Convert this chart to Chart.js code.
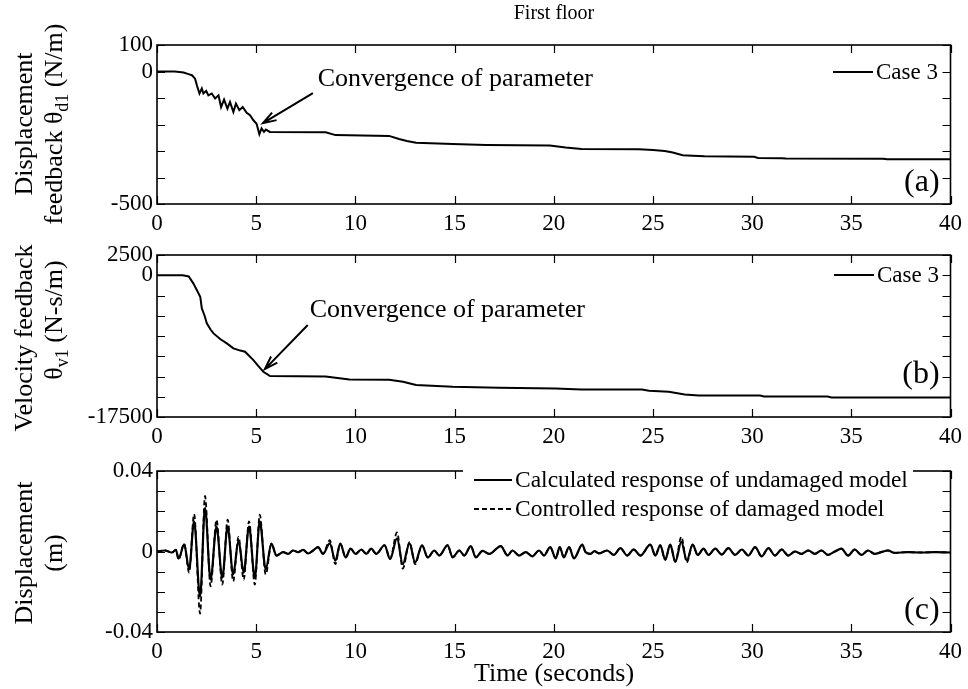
<!DOCTYPE html>
<html>
<head>
<meta charset="utf-8">
<title>First floor</title>
<script src="https://cdn.jsdelivr.net/npm/chart.js@4.4.1/dist/chart.umd.min.js"></script>
<style>
  html, body { margin: 0; padding: 0; background: #fff; }
  #wrap { position: relative; width: 968px; height: 689px; }
  #wrap canvas { position: absolute; left: 0; top: 0; }
</style>
</head>
<body>
<div id="wrap">
  <canvas id="panelA" width="968" height="689"></canvas>
  <canvas id="panelB" width="968" height="689"></canvas>
  <canvas id="panelC" width="968" height="689"></canvas>
</div>
<script>
// ---------- shared time axis ----------
const timeMin = 0, timeMax = 40, timeStep = 5;

// ---------- (a) displacement feedback gain theta_d1 (N/m) ----------
const timeA = [0, 0.9, 1.34, 1.59, 1.76, 1.92, 2.01, 2.14, 2.26, 2.34,
  2.48, 2.59, 2.76, 2.93, 3.1, 3.23, 3.38, 3.55, 3.68, 3.85,
  3.98, 4.15, 4.32, 4.52, 4.69, 4.86, 5.02, 5.16, 5.27, 5.39,
  5.49, 5.69, 8.5, 9.0, 11.7, 12.2, 12.6, 13.06, 14.9, 16.6,
  19.8, 20.6, 21.4, 24.3, 25.0, 25.6, 26.0, 26.5, 27.0, 27.6,
  30.1, 30.3, 31.5, 31.7, 36.6, 36.8, 40];
const thetaD1 = [0, 0, -4, -10, -14, -27, -52, -83, -64, -83,
  -73, -90, -83, -102, -90, -134, -106, -140, -115, -153,
  -121, -146, -134, -156, -165, -184, -197, -237, -215, -228,
  -219, -228, -229, -240, -243, -255, -262, -269, -274, -277,
  -279, -287, -292, -293, -296, -300, -306, -316, -318, -320,
  -322, -326, -327, -328, -329, -331, -331];
const yRangeA = [-500, 100], yStepA = 100, yLabelsA = [100, 0, -500];

// ---------- (b) velocity feedback gain theta_v1 (N-s/m) ----------
const timeB = [0, 1.3, 1.6, 1.83, 2.0, 2.18, 2.26, 2.4, 2.51, 2.7,
  2.85, 3.2, 3.52, 3.85, 4.2, 4.44, 4.86, 5.1, 5.36, 5.7,
  8.5, 9.7, 11.7, 12.4, 13.06, 14.9, 17.25, 20.1, 20.4, 21.4,
  24.45, 24.8, 25.8, 26.6, 27.3, 30.4, 30.6, 33.8, 34.0, 40];
const thetaV1 = [0, 0, -150, -1000, -1800, -2650, -4090, -5000, -5940, -6700,
  -7180, -7900, -8410, -9030, -9300, -9440, -10470, -11200, -11910, -12450,
  -12500, -12860, -12900, -13150, -13560, -13770, -13890, -13970, -14000, -14090,
  -14100, -14260, -14390, -14710, -14840, -14850, -14960, -14970, -15080, -15080];
const yRangeB = [-17500, 2500], yStepB = 2500, yLabelsB = [2500, 0, -17500];

// ---------- (c) first-floor displacement (m) ----------
const timeC = [0, 0.4, 0.75, 0.95, 1.09, 1.37, 1.62, 1.87, 2.17, 2.42,
  2.7, 3.0, 3.29, 3.56, 3.84, 4.11, 4.37, 4.64, 4.93, 5.18,
  5.48, 5.77, 6.02, 6.36, 6.61, 6.86, 7.11, 7.37, 7.62, 7.87,
  8.12, 8.37, 8.71, 8.99, 9.24, 9.51, 9.76, 10.01, 10.3, 10.55,
  10.8, 11.05, 11.47, 11.75, 12.1, 12.39, 12.73, 13.01, 13.36, 13.65,
  13.98, 14.23, 14.65, 14.9, 15.24, 15.49, 15.82, 16.07, 16.41, 16.75,
  17.33, 17.67, 17.92, 18.25, 18.59, 18.92, 19.26, 19.51, 19.82, 20.1,
  20.3, 20.51, 20.77, 21.02, 21.44, 21.6, 21.85, 22.05, 22.27, 22.69,
  23.03, 23.36, 23.7, 24.03, 24.37, 24.87, 25.12, 25.37, 25.62, 25.87,
  26.13, 26.43, 26.71, 27.0, 27.26, 27.55, 27.8, 28.14, 28.47, 28.8,
  29.14, 29.48, 29.81, 30.15, 30.48, 30.82, 31.15, 31.49, 31.82, 32.16,
  32.49, 32.83, 33.16, 33.5, 33.83, 34.17, 34.5, 34.84, 35.17, 35.51,
  35.84, 36.18, 36.51, 36.85, 37.18, 37.85, 38.52, 39.19, 40];
const dispUndamaged = [0, 0.0005, -0.0005, 0.0008, -0.0035, 0.0035, -0.0088, 0.015, -0.0224, 0.0217,
  -0.0139, 0.0124, -0.013, 0.0124, -0.0114, 0.0056, -0.0105, 0.0124, -0.013, 0.015,
  -0.0088, 0.0039, -0.002, -0.0003, -0.0012, 0.0005, -0.0003, 0.0008, -0.001, 0.0005,
  0.0022, -0.0012, 0.004, -0.0046, 0.0039, -0.0029, 0.0014, -0.0012, 0.001, -0.0012,
  0.0014, -0.0012, 0.0031, -0.0037, 0.0065, -0.0063, 0.004, -0.0054, 0.003, -0.003,
  0.0005, -0.002, 0.0031, -0.0029, 0.0005, -0.002, 0.0027, -0.0029, 0.0003, -0.0012,
  0.0027, -0.002, 0.0005, -0.002, -0.0003, -0.0024, 0.0005, -0.002, 0.0022, -0.0034,
  0.0022, -0.0029, 0.0022, -0.0034, 0.0034, -0.0003, -0.0012, 0.0002, -0.0009, 0.0005,
  -0.0017, 0.0017, -0.002, 0.001, -0.002, 0.0034, -0.002, 0.0031, -0.0041, 0.0034,
  -0.0051, 0.0048, -0.0045, 0.0034, -0.0017, 0.0014, -0.0017, 0.0014, -0.0015, 0.0017,
  -0.0017, 0.001, -0.002, 0.0022, -0.0024, 0.0017, -0.002, 0.001, -0.002, 0,
  -0.0012, 0.0005, -0.0012, 0.0005, -0.0017, 0, 0.0014, -0.002, 0.001, -0.0017,
  0.0005, -0.0012, -0.0003, 0.0005, -0.0007, -0.0003, -0.0005, -0.0003, -0.0005];
const dispDamaged = [0, 0.0005, -0.0005, 0.0008, -0.004, 0.0039, -0.0105, 0.0186, -0.0309, 0.0276,
  -0.0173, 0.0158, -0.0165, 0.0158, -0.0148, 0.0073, -0.014, 0.015, -0.0165, 0.0183,
  -0.0114, 0.0039, -0.002, -0.0003, -0.0012, 0.0005, -0.0003, 0.0008, -0.001, 0.0005,
  0.0022, -0.0012, 0.0056, -0.0063, 0.0039, -0.0029, 0.0014, -0.0012, 0.001, -0.0012,
  0.0014, -0.0012, 0.0031, -0.0037, 0.0095, -0.0085, 0.0047, -0.0063, 0.003, -0.003,
  0.0005, -0.002, 0.0031, -0.0029, 0.0005, -0.002, 0.0027, -0.0029, 0.0003, -0.0012,
  0.0027, -0.002, 0.0005, -0.002, -0.0003, -0.0024, 0.0005, -0.002, 0.0022, -0.0034,
  0.0022, -0.0029, 0.0022, -0.0034, 0.0034, -0.0003, -0.0012, 0.0002, -0.0009, 0.0005,
  -0.0017, 0.0017, -0.002, 0.001, -0.002, 0.0034, -0.002, 0.0031, -0.0041, 0.0034,
  -0.0051, 0.0073, -0.0054, 0.0034, -0.0017, 0.0014, -0.0017, 0.0014, -0.0015, 0.0017,
  -0.0017, 0.001, -0.002, 0.0022, -0.0024, 0.0017, -0.002, 0.001, -0.002, 0,
  -0.0012, 0.0005, -0.0012, 0.0005, -0.0017, 0, 0.0014, -0.002, 0.001, -0.0017,
  0.0005, -0.0012, -0.0003, 0.0005, -0.0007, -0.0003, -0.0005, -0.0003, -0.0005];
const yRangeC = [-0.04, 0.04], yStepC = 0.01, yLabelsC = [0.04, 0, -0.04];

// ---------- styling ----------
const SERIF = '"Liberation Serif", "Times New Roman", serif';
const TICK_FONT = 23;
const Y_AXIS_W = 100, X_AXIS_H = 40;
const PLOT_LEFT = 157, PLOT_RIGHT = 952;

const pts = (xs, ys) => xs.map((x, i) => ({ x, y: ys[i] }));

// Boxed axes with inward ticks on all sides, axis titles, legend, notes.
const figurePlugin = {
  id: 'figure',
  afterDraw(chart, args, o) {
    const ctx = chart.ctx, a = chart.chartArea;
    const xs = chart.scales.x, ys = chart.scales.y;
    ctx.save();
    ctx.strokeStyle = '#000';
    ctx.fillStyle = '#000';

    // inward tick marks
    const L = 8;
    ctx.lineWidth = 1.2;
    ctx.beginPath();
    xs.ticks.forEach(t => {
      const p = Math.round(xs.getPixelForValue(t.value)) + 0.5;
      ctx.moveTo(p, a.bottom); ctx.lineTo(p, a.bottom - L);
      ctx.moveTo(p, a.top); ctx.lineTo(p, a.top + L);
    });
    ys.ticks.forEach(t => {
      const p = Math.round(ys.getPixelForValue(t.value)) + 0.5;
      ctx.moveTo(a.left, p); ctx.lineTo(a.left + L, p);
      ctx.moveTo(a.right, p); ctx.lineTo(a.right - L, p);
    });
    ctx.stroke();
    ctx.lineWidth = 1.6;
    ctx.strokeRect(a.left, a.top, a.right - a.left, a.bottom - a.top);

    // legend
    if (o.legend) {
      const lg = o.legend;
      if (lg.clear) {
        ctx.fillStyle = '#fff';
        ctx.fillRect(lg.clear[0], lg.clear[1], lg.clear[2], lg.clear[3]);
        ctx.fillStyle = '#000';
      }
      ctx.font = lg.size + 'px ' + SERIF;
      ctx.textBaseline = 'middle';
      ctx.textAlign = 'left';
      chart.data.datasets.forEach((ds, i) => {
        const y = lg.y[i];
        ctx.lineWidth = ds.borderWidth;
        ctx.setLineDash(ds.borderDash || []);
        ctx.beginPath();
        ctx.moveTo(lg.x, y); ctx.lineTo(lg.x + lg.len, y);
        ctx.stroke();
        ctx.setLineDash([]);
        ctx.fillText(ds.label, lg.x + lg.len + 3, y + 1);
      });
    }

    // annotation with arrow (positions in data units)
    if (o.note) {
      const n = o.note;
      ctx.font = n.size + 'px ' + SERIF;
      ctx.textAlign = 'left';
      ctx.textBaseline = 'alphabetic';
      ctx.fillText(n.text, xs.getPixelForValue(n.at[0]), ys.getPixelForValue(n.at[1]));
      const x0 = xs.getPixelForValue(n.from[0]), y0 = ys.getPixelForValue(n.from[1]);
      const x1 = xs.getPixelForValue(n.to[0]), y1 = ys.getPixelForValue(n.to[1]);
      ctx.lineWidth = 2;
      ctx.beginPath();
      ctx.moveTo(x0, y0); ctx.lineTo(x1, y1);
      const ang = Math.atan2(y1 - y0, x1 - x0), h = 14, sp = 0.32;
      ctx.moveTo(x1 - h * Math.cos(ang - sp), y1 - h * Math.sin(ang - sp));
      ctx.lineTo(x1, y1);
      ctx.lineTo(x1 - h * Math.cos(ang + sp), y1 - h * Math.sin(ang + sp));
      ctx.stroke();
    }

    // panel tag
    if (o.tag) {
      ctx.font = o.tag.size + 'px ' + SERIF;
      ctx.textAlign = 'right';
      ctx.textBaseline = 'middle';
      ctx.fillText(o.tag.text, xs.getPixelForValue(o.tag.at[0]), ys.getPixelForValue(o.tag.at[1]));
    }

    // rotated, possibly two-line y-axis title with subscripts
    if (o.yTitle) {
      const t = o.yTitle;
      t.lines.forEach((segs, li) => {
        ctx.save();
        ctx.translate(t.x[li], t.y[li]);
        ctx.rotate(-Math.PI / 2);
        ctx.textBaseline = 'middle';
        ctx.textAlign = 'left';
        const fontOf = s => (s.sub ? t.subSize : t.size) + 'px ' + SERIF;
        let w = 0;
        segs.forEach(s => { ctx.font = fontOf(s); w += ctx.measureText(s.t).width; });
        let cx = -w / 2;
        segs.forEach(s => {
          ctx.font = fontOf(s);
          ctx.fillText(s.t, cx, s.sub ? 8 : 0);
          cx += ctx.measureText(s.t).width;
        });
        ctx.restore();
      });
    }

    // horizontal texts (figure title, x-axis title)
    (o.texts || []).forEach(tx => {
      ctx.font = tx.size + 'px ' + SERIF;
      ctx.textAlign = 'center';
      ctx.textBaseline = 'middle';
      ctx.fillText(tx.text, tx.x, tx.y);
    });
    ctx.restore();
  }
};

function makePanel(id, top, bottom, datasets, yRange, yStep, yLabels, fig) {
  return new Chart(document.getElementById(id), {
    type: 'line',
    data: { datasets },
    plugins: [figurePlugin],
    options: {
      responsive: false,
      animation: false,
      events: [],
      layout: {
        padding: {
          left: PLOT_LEFT - Y_AXIS_W,
          right: 968 - PLOT_RIGHT,
          top: top,
          bottom: 689 - bottom - X_AXIS_H
        }
      },
      elements: { point: { radius: 0 } },
      scales: {
        x: {
          type: 'linear', min: timeMin, max: timeMax,
          grid: { display: false, drawTicks: false },
          border: { display: false },
          afterFit: s => { s.height = X_AXIS_H; },
          ticks: {
            stepSize: timeStep, autoSkip: false, maxRotation: 0, padding: 6,
            color: '#000', font: { family: SERIF, size: TICK_FONT },
            callback: v => String(v)
          }
        },
        y: {
          type: 'linear', min: yRange[0], max: yRange[1],
          grid: { display: false, drawTicks: false },
          border: { display: false },
          afterFit: s => { s.width = Y_AXIS_W; },
          ticks: {
            stepSize: yStep, autoSkip: false, padding: 4,
            color: '#000', font: { family: SERIF, size: TICK_FONT },
            callback: v => {
              const hit = yLabels.find(l => Math.abs(l - v) < yStep * 1e-6);
              return hit === undefined ? '' : String(hit);
            }
          }
        }
      },
      plugins: {
        legend: { display: false },
        tooltip: { enabled: false },
        figure: fig
      }
    }
  });
}

makePanel('panelA', 45, 204, [{
  label: 'Case 3', data: pts(timeA, thetaD1),
  borderColor: '#000', borderWidth: 2, tension: 0, fill: false
}], yRangeA, yStepA, yLabelsA, {
  legend: { x: 833, y: [72], len: 40, size: 23 },
  note: { text: 'Convergence of parameter', size: 26, at: [8.1, -56], from: [7.86, -82], to: [5.34, -195] },
  tag: { text: '(a)', size: 32, at: [39.45, -421] },
  yTitle: {
    x: [25, 55], y: [124, 124], size: 26, subSize: 18,
    lines: [[{ t: 'Displacement' }], [{ t: 'feedback θ' }, { t: 'd1', sub: true }, { t: ' (N/m)' }]]
  },
  texts: [{ text: 'First floor', x: 554, y: 14, size: 20 }]
});

makePanel('panelB', 255, 417, [{
  label: 'Case 3', data: pts(timeB, thetaV1),
  borderColor: '#000', borderWidth: 2, tension: 0, fill: false
}], yRangeB, yStepB, yLabelsB, {
  legend: { x: 834, y: [275], len: 40, size: 23 },
  note: { text: 'Convergence of parameter', size: 26, at: [7.7, -5150], from: [7.6, -6150], to: [5.44, -11584] },
  tag: { text: '(b)', size: 32, at: [39.45, -12325] },
  yTitle: {
    x: [25, 55], y: [338, 320], size: 26, subSize: 18,
    lines: [[{ t: 'Velocity feedback' }], [{ t: 'θ' }, { t: 'v1', sub: true }, { t: ' (N-s/m)' }]]
  }
});

makePanel('panelC', 471, 632, [{
  label: 'Calculated response of undamaged model', data: pts(timeC, dispUndamaged),
  borderColor: '#000', borderWidth: 2.2, cubicInterpolationMode: 'monotone', fill: false
}, {
  label: 'Controlled response of damaged model', data: pts(timeC, dispDamaged),
  borderColor: '#000', borderWidth: 1.8, borderDash: [5, 3], cubicInterpolationMode: 'monotone', fill: false
}], yRangeC, yStepC, yLabelsC, {
  legend: { x: 474, y: [480, 509], len: 38, size: 23.5, clear: [463, 462, 450, 60] },
  tag: { text: '(c)', size: 32, at: [39.45, -0.0296] },
  yTitle: {
    x: [25, 55], y: [553, 553], size: 26, subSize: 18,
    lines: [[{ t: 'Displacement' }], [{ t: '(m)' }]]
  },
  texts: [{ text: 'Time (seconds)', x: 554, y: 674, size: 26 }]
});
</script>
</body>
</html>
